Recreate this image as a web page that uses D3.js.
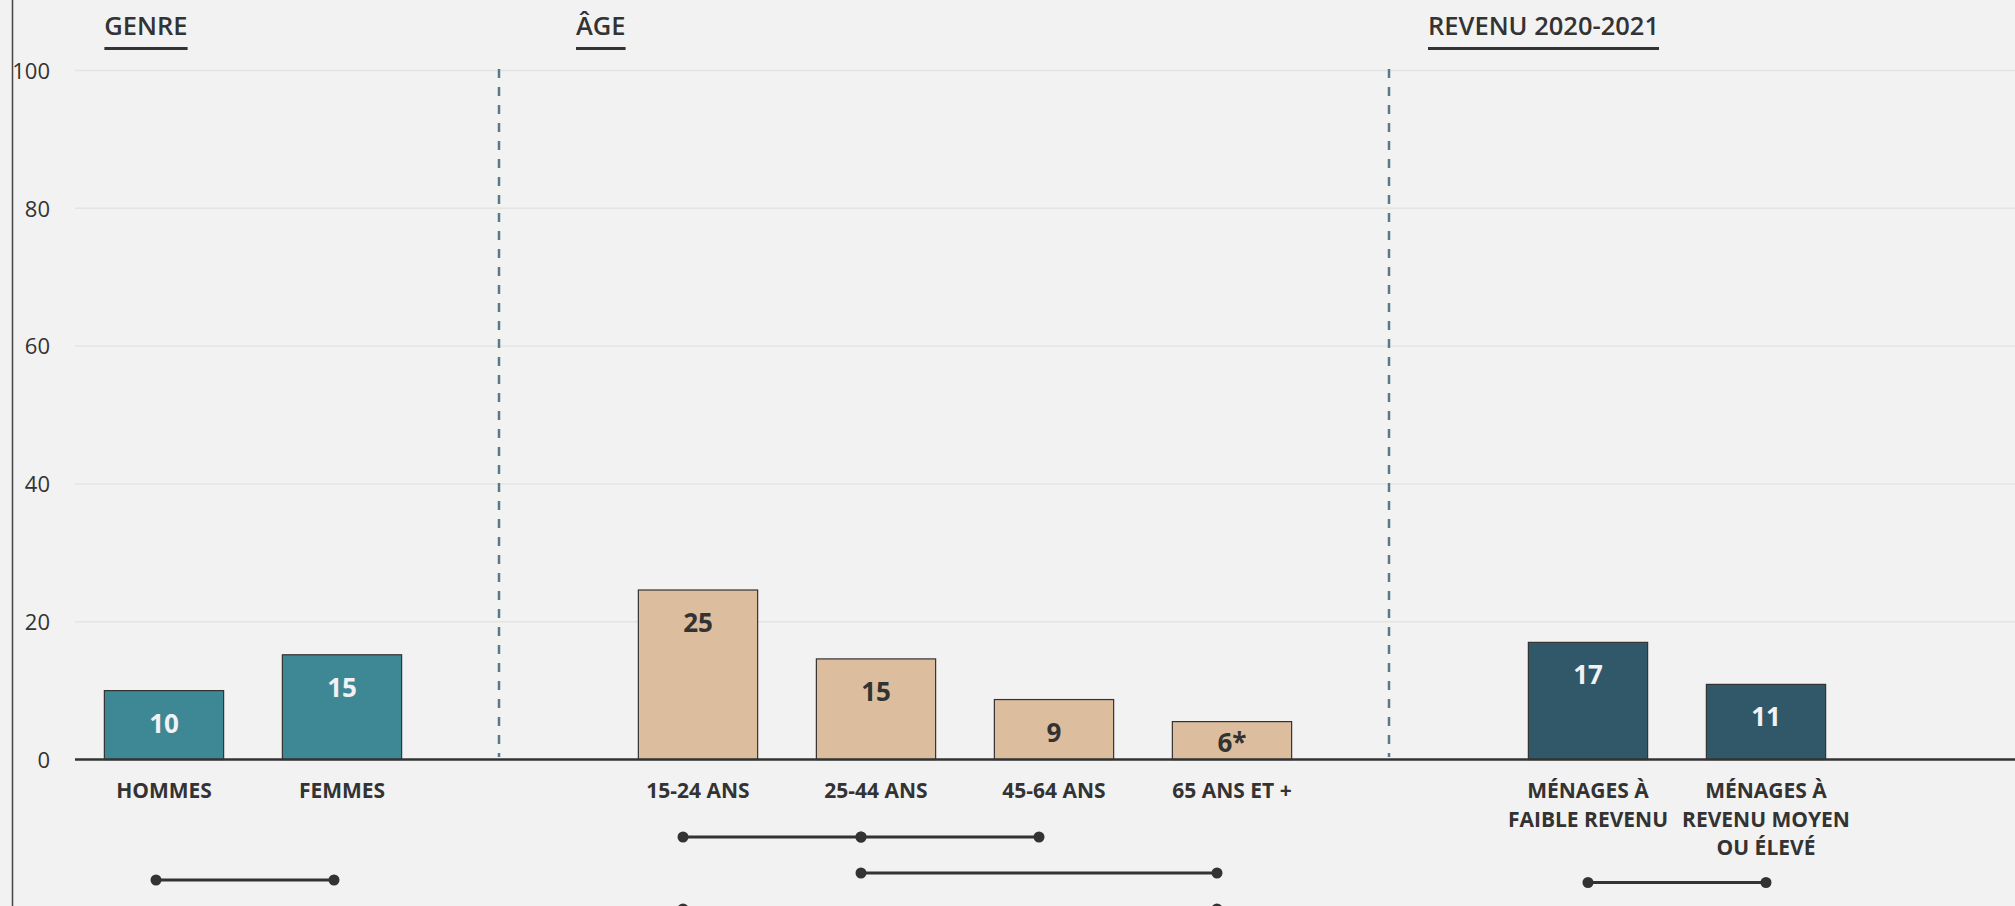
<!DOCTYPE html>
<html>
<head>
<meta charset="utf-8">
<script src="https://cdn.jsdelivr.net/npm/d3@7"></script>
<style>
  html, body { margin: 0; padding: 0; background: #f2f2f2; }
  svg { display: block; font-family: "Open Sans", "Noto Sans", sans-serif; }
</style>
</head>
<body>
<div class="chart"></div>
<script>
// data
const genreCats = ['HOMMES', 'FEMMES'];
const genreValues = [10, 15.2];
const genreLabels = ['10', '15'];

const ageCats = ['15-24 ANS', '25-44 ANS', '45-64 ANS', '65 ANS ET +'];
const ageValues = [24.6, 14.6, 8.7, 5.5];
const ageLabels = ['25', '15', '9', '6*'];

const revenuCats = ['MÉNAGES À\nFAIBLE REVENU', 'MÉNAGES À\nREVENU MOYEN\nOU ÉLEVÉ'];
const revenuValues = [17, 10.9];
const revenuLabels = ['17', '11'];

const yTicks = [0, 20, 40, 60, 80, 100];

// significance brackets: [from, to, row]
const genreBrackets = [['HOMMES', 'FEMMES', 0]];
const ageBrackets = [
  ['15-24 ANS', '25-44 ANS', 0],
  ['25-44 ANS', '45-64 ANS', 0],
  ['25-44 ANS', '65 ANS ET +', 1],
  ['15-24 ANS', '65 ANS ET +', 2]
];
const revenuBrackets = [[revenuCats[0], revenuCats[1], 0]];

const w = 2015, h = 906;

const svg = d3.select('.chart').append('svg')
  .attr('width', w)
  .attr('height', h);

svg.append('rect').attr('width', w).attr('height', h).attr('fill', '#f2f2f2');

// one band scale, with an empty slot between each group
const domain = [...genreCats, 'gap1', ...ageCats, 'gap2', ...revenuCats];
const x = d3.scaleBand()
  .domain(domain)
  .range([75, 1855])
  .paddingInner(0.33)
  .paddingOuter(0.165);

const y = d3.scaleLinear()
  .domain([0, 100])
  .range([759.5, 70.5]);

const cx = d => x(d) + x.bandwidth() / 2;

// gridlines
svg.append('g')
  .selectAll('line')
  .data(yTicks.filter(t => t > 0))
  .enter()
  .append('line')
  .attr('x1', 75).attr('x2', w)
  .attr('y1', d => y(d)).attr('y2', d => y(d))
  .attr('stroke', '#e4e4e4')
  .attr('stroke-width', 1.5);

// y axis (labels only, plus the thin line at the left)
const yAxis = svg.append('g')
  .attr('transform', 'translate(50,0)')
  .call(d3.axisLeft(y).tickValues(yTicks).tickSize(0).tickPadding(0));
yAxis.select('.domain').remove();
yAxis.selectAll('text')
  .attr('font-family', '"Open Sans", sans-serif')
  .attr('font-size', 22)
  .attr('fill', '#333')
  .attr('dy', '0.35em');

svg.append('line')
  .attr('x1', 12.5).attr('x2', 12.5)
  .attr('y1', 0).attr('y2', h)
  .attr('stroke', '#444')
  .attr('stroke-width', 1.5);

// dashed dividers in the empty slots
svg.append('g')
  .selectAll('line')
  .data(['gap1', 'gap2'])
  .enter()
  .append('line')
  .attr('x1', d => cx(d) - 21).attr('x2', d => cx(d) - 21)
  .attr('y1', 69).attr('y2', 757)
  .attr('stroke', '#587a88')
  .attr('stroke-width', 2.5)
  .attr('stroke-dasharray', '9,9');

// bars
const groups = [
  {cats: genreCats, values: genreValues, labels: genreLabels, fill: '#3e8794', text: '#f2f2f2'},
  {cats: ageCats, values: ageValues, labels: ageLabels, fill: '#dcbe9e', text: '#333'},
  {cats: revenuCats, values: revenuValues, labels: revenuLabels, fill: '#315868', text: '#f2f2f2'}
];

groups.forEach(grp => {
  const rows = grp.cats.map((c, i) => ({cat: c, value: grp.values[i], label: grp.labels[i]}));
  const g = svg.append('g');

  g.selectAll('rect')
    .data(rows)
    .enter()
    .append('rect')
    .attr('x', d => x(d.cat))
    .attr('y', d => y(d.value))
    .attr('width', x.bandwidth())
    .attr('height', d => y(0) - y(d.value))
    .attr('fill', grp.fill)
    .attr('stroke', '#333')
    .attr('stroke-width', 1.2);

  g.selectAll('text.value')
    .data(rows)
    .enter()
    .append('text')
    .attr('class', 'value')
    .attr('x', d => cx(d.cat))
    .attr('y', d => Math.min(y(d.value) + 42, y(0) - 8))
    .attr('text-anchor', 'middle')
    .attr('font-size', 26)
    .attr('font-weight', 700)
    .attr('fill', grp.text)
    .text(d => d.label);
});

// baseline
svg.append('line')
  .attr('x1', 75).attr('x2', w)
  .attr('y1', y(0)).attr('y2', y(0))
  .attr('stroke', '#333')
  .attr('stroke-width', 2.5);

// category labels (multi-line where needed)
const catLabels = svg.append('g')
  .selectAll('text')
  .data([...genreCats, ...ageCats, ...revenuCats])
  .enter()
  .append('text')
  .attr('x', d => cx(d))
  .attr('y', 798)
  .attr('text-anchor', 'middle')
  .attr('font-size', 21)
  .attr('font-weight', 700)
  .attr('fill', '#333');

catLabels.selectAll('tspan')
  .data(d => d.split('\n').map(t => ({t, c: d})))
  .enter()
  .append('tspan')
  .attr('x', d => cx(d.c))
  .attr('dy', (d, i) => i === 0 ? 0 : 28.5)
  .text(d => d.t);

// group titles with underline
const titles = [
  {text: 'GENRE', x: x('HOMMES')},
  {text: 'ÂGE', x: cx('gap1') - 21 + 77},
  {text: 'REVENU 2020-2021', x: cx('gap2') - 21 + 39}
];
titles.forEach(t => {
  const txt = svg.append('text')
    .attr('x', t.x)
    .attr('y', 35)
    .attr('font-size', 25.5)
    .attr('font-weight', 600)
    .attr('fill', '#333')
    .text(t.text);
  const len = txt.node().getComputedTextLength();
  svg.append('line')
    .attr('x1', t.x).attr('x2', t.x + len)
    .attr('y1', 48.5).attr('y2', 48.5)
    .attr('stroke', '#333')
    .attr('stroke-width', 3);
});

// significance brackets (the dots sit a little left of the bar centres)
function drawBrackets(list, y0, step, shift) {
  const g = svg.append('g');
  list.forEach(b => {
    const yy = y0 + b[2] * step;
    g.append('line')
      .attr('x1', cx(b[0]) + shift).attr('x2', cx(b[1]) + shift)
      .attr('y1', yy).attr('y2', yy)
      .attr('stroke', '#333')
      .attr('stroke-width', 3);
    g.selectAll(null)
      .data([b[0], b[1]])
      .enter()
      .append('circle')
      .attr('cx', d => cx(d) + shift)
      .attr('cy', yy)
      .attr('r', 5.5)
      .attr('fill', '#333');
  });
}
drawBrackets(genreBrackets, 880, 0, -8);
drawBrackets(ageBrackets, 837, 36, -15);
drawBrackets(revenuBrackets, 882.5, 0, 0);
</script>
</body>
</html>
